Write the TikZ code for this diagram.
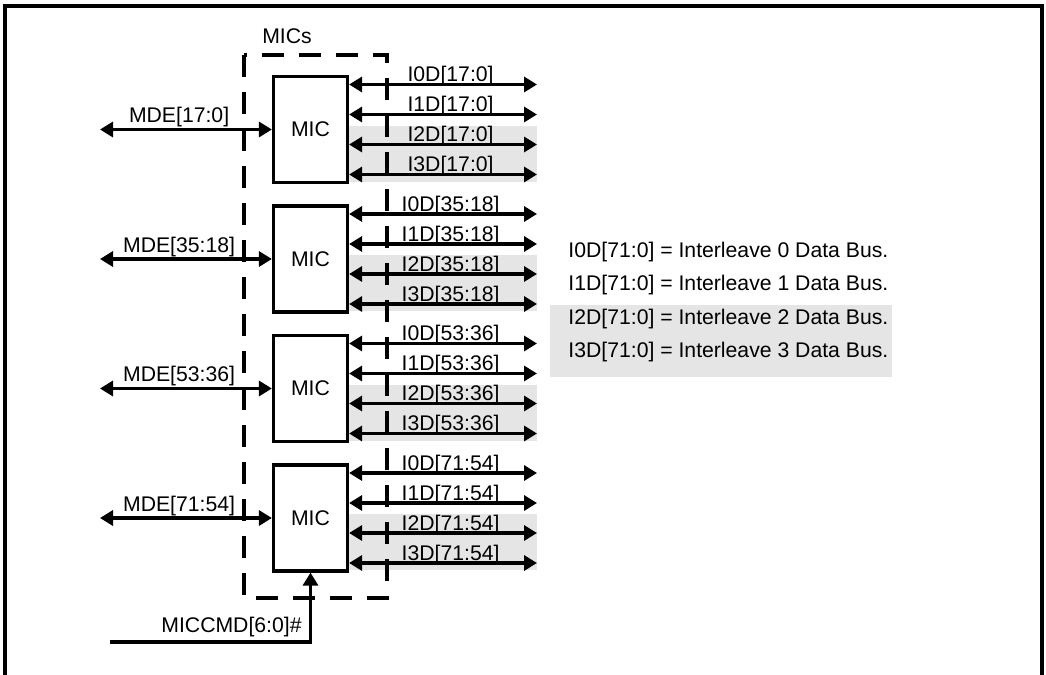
\documentclass[tikz,border=0pt]{standalone}
\usepackage{fontspec}
\setmainfont{Liberation Sans}
\usetikzlibrary{arrows.meta}
\tikzset{
  mic/.style={draw,line width=1.6pt,minimum width=37pt,minimum height=53pt},
  bus/.style={<->,line width=1.7pt},
  lbl/.style={anchor=base,inner sep=0pt},
  shade/.style={fill=gray!20},
}
\begin{document}
\begin{tikzpicture}[x=0.5pt,y=-0.5pt,>={Triangle[length=6.5pt,width=7.5pt]},
  every node/.style={font=\fontsize{10.6}{12}\selectfont}]
\useasboundingbox (0,0) rectangle (1046,675);
\draw[line width=2pt] (5,675) -- (5,6) -- (1042,6) -- (1042,675);
% grey bands for interleave 2 and 3
\fill[shade] (349,125.5) rectangle (537,181.5);\fill[shade] (349,255) rectangle (537,311);
\fill[shade] (349,384.5) rectangle (537,440.5);\fill[shade] (349,514) rectangle (537,570);
\fill[shade] (550,305) rectangle (892,377);
% MIC blocks
\node[mic] (m1) at (310.5,129.5) {MIC};
\node[mic] (m2) at (310.5,259) {MIC};
\node[mic] (m3) at (310.5,388.5) {MIC};
\node[mic] (m4) at (310.5,518) {MIC};
% free ends
\coordinate (mde1) at (100,129.5);\coordinate (mde2) at (100,259);
\coordinate (mde3) at (100,388.5);\coordinate (mde4) at (100,518);
\coordinate (i0d1) at (537,84.5);\coordinate (i1d1) at (537,114.5);\coordinate (i2d1) at (537,144.5);\coordinate (i3d1) at (537,174.5);
\coordinate (i0d2) at (537,214);\coordinate (i1d2) at (537,244);\coordinate (i2d2) at (537,274);\coordinate (i3d2) at (537,304);
\coordinate (i0d3) at (537,343.5);\coordinate (i1d3) at (537,373.5);\coordinate (i2d3) at (537,403.5);\coordinate (i3d3) at (537,433.5);
\coordinate (i0d4) at (537,473);\coordinate (i1d4) at (537,503);\coordinate (i2d4) at (537,533);\coordinate (i3d4) at (537,563);
\coordinate (cmd) at (110,642);
% MDE buses
\draw[bus] (mde1) -- node[lbl,pos=.46,yshift=3.5pt] {MDE[17:0]} (m1.west);
\draw[bus] (mde2) -- node[lbl,pos=.46,yshift=3.5pt] {MDE[35:18]} (m2.west);
\draw[bus] (mde3) -- node[lbl,pos=.46,yshift=3.5pt] {MDE[53:36]} (m3.west);
\draw[bus] (mde4) -- node[lbl,pos=.46,yshift=3.5pt] {MDE[71:54]} (m4.west);
% interleave data buses
\draw[bus] (m1.east |- i0d1) -- node[lbl,pos=.54,yshift=1.5pt] {I0D[17:0]} (i0d1);
\draw[bus] (m1.east |- i1d1) -- node[lbl,pos=.54,yshift=1.5pt] {I1D[17:0]} (i1d1);
\draw[bus] (m1.east |- i2d1) -- node[lbl,pos=.54,yshift=1.5pt] {I2D[17:0]} (i2d1);
\draw[bus] (m1.east |- i3d1) -- node[lbl,pos=.54,yshift=1.5pt] {I3D[17:0]} (i3d1);
\draw[bus] (m2.east |- i0d2) -- node[lbl,pos=.54,yshift=1.5pt] {I0D[35:18]} (i0d2);
\draw[bus] (m2.east |- i1d2) -- node[lbl,pos=.54,yshift=1.5pt] {I1D[35:18]} (i1d2);
\draw[bus] (m2.east |- i2d2) -- node[lbl,pos=.54,yshift=1.5pt] {I2D[35:18]} (i2d2);
\draw[bus] (m2.east |- i3d2) -- node[lbl,pos=.54,yshift=1.5pt] {I3D[35:18]} (i3d2);
\draw[bus] (m3.east |- i0d3) -- node[lbl,pos=.54,yshift=1.5pt] {I0D[53:36]} (i0d3);
\draw[bus] (m3.east |- i1d3) -- node[lbl,pos=.54,yshift=1.5pt] {I1D[53:36]} (i1d3);
\draw[bus] (m3.east |- i2d3) -- node[lbl,pos=.54,yshift=1.5pt] {I2D[53:36]} (i2d3);
\draw[bus] (m3.east |- i3d3) -- node[lbl,pos=.54,yshift=1.5pt] {I3D[53:36]} (i3d3);
\draw[bus] (m4.east |- i0d4) -- node[lbl,pos=.54,yshift=1.5pt] {I0D[71:54]} (i0d4);
\draw[bus] (m4.east |- i1d4) -- node[lbl,pos=.54,yshift=1.5pt] {I1D[71:54]} (i1d4);
\draw[bus] (m4.east |- i2d4) -- node[lbl,pos=.54,yshift=1.5pt] {I2D[71:54]} (i2d4);
\draw[bus] (m4.east |- i3d4) -- node[lbl,pos=.54,yshift=1.5pt] {I3D[71:54]} (i3d4);
% command input
\draw[->,line width=1.7pt] (cmd) -| (m4.south);
\node[lbl,anchor=base east] (cmdl) at (302,632) {MICCMD[6:0]\#};
% MICs group
\draw[line width=1.6pt,dash pattern=on 11pt off 7.5pt] (244,55) rectangle (387,598);
\node[lbl] (mics) at (287,43) {MICs};
% legend
\node[lbl,anchor=base west] (k0) at (568,257) {I0D[71:0] = Interleave 0 Data Bus.};
\node[lbl,anchor=base west] (k1) at (568,290.5) {I1D[71:0] = Interleave 1 Data Bus.};
\node[lbl,anchor=base west] (k2) at (568,324) {I2D[71:0] = Interleave 2 Data Bus.};
\node[lbl,anchor=base west] (k3) at (568,357.5) {I3D[71:0] = Interleave 3 Data Bus.};
\end{tikzpicture}
\end{document}
